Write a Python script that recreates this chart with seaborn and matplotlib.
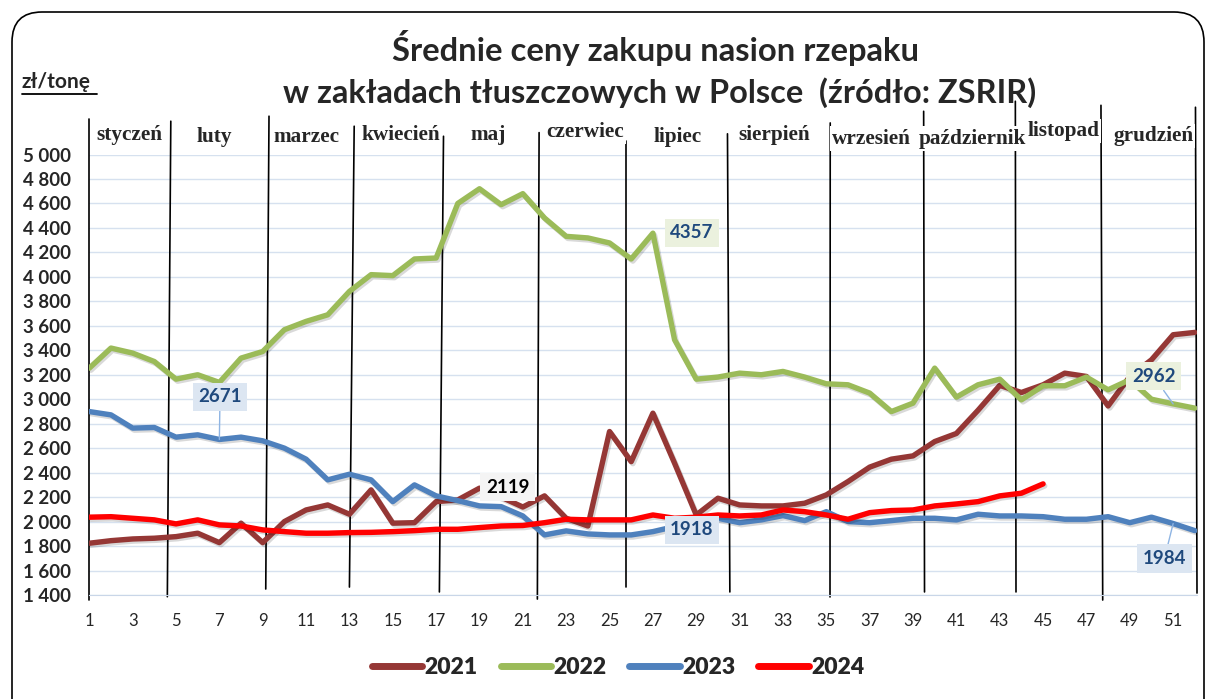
import matplotlib
matplotlib.use('Agg')
import matplotlib.pyplot as plt
import matplotlib.patheffects as pe
from matplotlib.patches import FancyBboxPatch
from matplotlib.lines import Line2D
import seaborn as sns
import pandas as pd
import numpy as np

# --- data (zl / tonne, weeks 1..52) ---
weeks = list(range(1, 53))

price_2021 = [1823, 1844, 1858, 1864, 1877, 1905, 1828, 1987, 1828, 2000,
              2095, 2136, 2060, 2259, 1987, 1991, 2163, 2177, 2273, 2200,
              2119, 2210, 2027, 1964, 2736, 2490, 2886, 2477, 2054, 2191,
              2136, 2128, 2128, 2150, 2218, 2327, 2445, 2510, 2537, 2654,
              2720, 2910, 3113, 3055, 3118, 3213, 3186, 2945, 3186, 3322,
              3527, 3546]
price_2022 = [3254, 3418, 3377, 3308, 3164, 3200, 3137, 3336, 3390, 3568,
              3636, 3690, 3881, 4018, 4010, 4146, 4154, 4600, 4720, 4590,
              4680, 4481, 4331, 4318, 4277, 4146, 4357, 3486, 3164, 3181,
              3213, 3200, 3227, 3181, 3126, 3118, 3050, 2899, 2968, 3254,
              3017, 3118, 3164, 2995, 3110, 3110, 3181, 3077, 3159, 3000,
              2962, 2927]
price_2023 = [2899, 2872, 2764, 2769, 2690, 2709, 2671, 2690, 2660, 2600,
              2510, 2341, 2387, 2341, 2163, 2300, 2210, 2171, 2128, 2122,
              2046, 1891, 1924, 1899, 1891, 1891, 1918, 1959, 2000, 2027,
              1991, 2014, 2049, 2008, 2081, 2000, 1991, 2008, 2027, 2027,
              2014, 2060, 2046, 2046, 2040, 2019, 2019, 2040, 1991, 2036,
              1984, 1926]
price_2024 = [2036, 2040, 2027, 2014, 1981, 2014, 1973, 1964, 1932, 1918,
              1905, 1905, 1910, 1912, 1918, 1926, 1937, 1937, 1951, 1964,
              1968, 1991, 2019, 2014, 2014, 2014, 2054, 2027, 2036, 2054,
              2046, 2054, 2095, 2081, 2054, 2019, 2073, 2090, 2095, 2128,
              2144, 2163, 2210, 2232, 2308]

years = ['2021', '2022', '2023', '2024']
month_names = ['styczeń', 'luty', 'marzec', 'kwiecień', 'maj', 'czerwiec',
               'lipiec', 'sierpień', 'wrzesień', 'październik', 'listopad',
               'grudzień']

# month separators drawn by hand in the original (slightly slanted)
sep_week_top = [1.0, 4.76, 9.29, 13.22, 17.34, 21.75, 25.75, 30.44, 35.18,
                39.49, 43.72, 47.67, 52.03]
sep_week_bottom = [1.0, 4.60, 9.14, 13.0, 17.15, 21.67, 25.75, 30.55, 35.17,
                   39.53, 43.75, 47.75, 52.10]
sep_val_top = [5294, 5272, 5313, 5231, 5149, 5179, 5110, 5169, 5258, 5353,
               5435, 5402, 5386]
sep_val_bottom = [1359, 1386, 1449, 1465, 1425, 1367, 1465, 1425, 1384,
                  1425, 1425, 1359, 1416]
month_label_week = [2.83, 6.76, 11.0, 15.38, 19.4, 23.88, 28.12, 32.6, 37.07,
                    41.73, 45.93, 50.08]
month_label_val = [5163, 5146, 5146, 5163, 5163, 5187, 5146, 5163, 5130,
                   5130, 5190, 5149]

COLORS = {'2021': '#953735', '2022': '#9bbb59', '2023': '#4f81bd',
          '2024': '#ff0000'}

series = {'2021': price_2021, '2022': price_2022, '2023': price_2023,
          '2024': price_2024}
rows = []
for yr in years:
    for w, v in zip(weeks, series[yr]):
        rows.append({'tydzien': w, 'cena': v, 'rok': yr})
df = pd.DataFrame(rows)

sns.set_style('white')
plt.rcParams['font.family'] = ['Lato', 'DejaVu Sans']

W, H = 1206, 699
fig = plt.figure(figsize=(W / 100, H / 100), dpi=100)
ax = fig.add_axes([89.3 / W, 1 - 595 / H, (1197 - 89.3) / W, (595 - 154.5) / H])

for yr in years:
    sns.lineplot(data=df[df['rok'] == yr], x='tydzien', y='cena', ax=ax,
                 color=COLORS[yr], linewidth=3.9, label=yr, zorder=3,
                 path_effects=[pe.SimpleLineShadow(offset=(1.2, -1.5), alpha=0.15),
                               pe.Normal()])
ax.get_legend().remove()

ax.set_xlim(1, 52.1)
ax.set_ylim(1400, 5000)
ax.set_yticks(range(1400, 5001, 200))
ax.set_yticklabels([f'{v:,}'.replace(',', ' ') for v in range(1400, 5001, 200)],
                   fontweight='bold', fontsize=13.5)
ax.set_xticks(weeks)
ax.set_xticklabels([str(w) if w % 2 == 1 else '' for w in weeks], fontsize=12)
ax.tick_params(axis='x', length=5, color='#b9c9de', width=1, pad=8)
ax.tick_params(axis='y', length=0, pad=13)
ax.set_xlabel('')
ax.set_ylabel('')
ax.grid(axis='y', color='#d6e1ef', linewidth=1)
ax.grid(axis='x', visible=False)
for s in ['top', 'right', 'left']:
    ax.spines[s].set_visible(False)
ax.spines['bottom'].set_color('#c9d6e8')

# month separators
for wt, wb, vt, vb in zip(sep_week_top, sep_week_bottom, sep_val_top, sep_val_bottom):
    ax.plot([wt, wb], [vt, vb], color='black', linewidth=1.2, clip_on=False,
            zorder=2)
for name, w, v in zip(month_names, month_label_week, month_label_val):
    ax.text(w, v, name, ha='center', va='center', fontsize=15.3,
            fontweight='bold', family='Liberation Serif', clip_on=False,
            zorder=5, bbox=dict(boxstyle='square,pad=0.1', fc='white', ec='none'))

# value labels
blue_box = dict(boxstyle='square,pad=0.3', fc='#dce6f2', ec='none')
green_box = dict(boxstyle='square,pad=0.3', fc='#ebf1de', ec='none')
lead = dict(arrowstyle='-', color='#8eb4e3', linewidth=1, shrinkA=0, shrinkB=0)
lab = dict(ha='center', va='center', fontsize=13.5, fontweight='bold', zorder=6)
ax.annotate('2671', xy=(7, 2671), xytext=(7.03, 3020), color='#1f497d',
            bbox=blue_box, arrowprops=lead, **lab)
ax.annotate('2119', xy=(20.3, 2280), color='black',
            bbox=dict(boxstyle='square,pad=0.3', fc='#f4f4f4', ec='none'), **lab)
ax.annotate('4357', xy=(28.8, 4361), color='#1f497d', bbox=green_box, **lab)
ax.annotate('1918', xy=(28.8, 1932), color='#1f497d', bbox=blue_box, **lab)
ax.annotate('2962', xy=(51, 2962), xytext=(50.1, 3187), color='#1f497d',
            bbox=green_box, arrowprops=lead, **lab)
ax.annotate('1984', xy=(51, 1984), xytext=(50.6, 1699), color='#1f497d',
            bbox=blue_box, arrowprops=lead, **lab)

# titles
fig.text(655 / W, 1 - 48 / H, 'Średnie ceny zakupu nasion rzepaku', ha='center',
         va='center', fontsize=23.6, fontweight='bold')
fig.text(660 / W, 1 - 93 / H, 'w zakładach tłuszczowych w Polsce  (źródło: ZSRIR)',
         ha='center', va='center', fontsize=23.4, fontweight='bold')
fig.text(22 / W, 1 - 82 / H, 'zł/tonę', ha='left', va='center', fontsize=15,
         fontweight='bold')
fig.add_artist(Line2D([22 / W, 97 / W], [1 - 94 / H, 1 - 94 / H], color='black',
                      linewidth=1.3))

# legend
handles = [Line2D([0], [0], color=COLORS[yr], linewidth=5, solid_capstyle='round')
           for yr in years]
fig.legend(handles, years, loc='center', bbox_to_anchor=(618 / W, 1 - 668 / H),
           ncol=4, frameon=False, handlelength=2.2, handletextpad=0.1,
           columnspacing=1.0, prop={'weight': 'heavy', 'size': 16.5})

# rounded outer frame
frame = FancyBboxPatch((0.12, -0.5), 11.92, 7.37,
                       boxstyle='round,pad=0,rounding_size=0.3',
                       transform=fig.dpi_scale_trans, fc='none', ec='black',
                       linewidth=1.2)
fig.add_artist(frame)

fig.savefig('out.png', dpi=100)
